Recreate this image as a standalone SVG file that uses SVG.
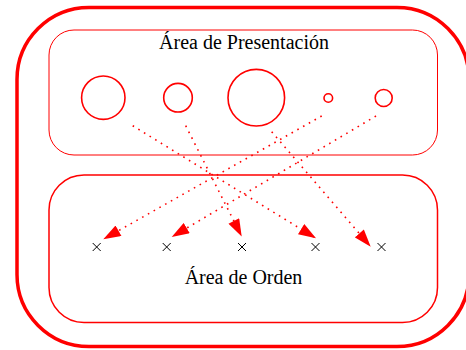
<svg xmlns="http://www.w3.org/2000/svg" width="466" height="350" viewBox="0 0 466 350">
<style>
.frame{fill:none;stroke:#ff0000}
.circ{fill:none;stroke:#ff0000;stroke-width:1.6}
.conn{fill:none;stroke:#ff0000;stroke-width:1.6;stroke-dasharray:1.6 5}
.cross{fill:none;stroke:#000;stroke-width:1}
.lbl{font-family:"Liberation Serif","Times New Roman",serif;font-size:20px;fill:#000;text-anchor:middle}
</style>
<defs>
<marker id="ah" markerUnits="userSpaceOnUse" markerWidth="18" markerHeight="12" refX="16" refY="5.5" orient="auto" viewBox="0 0 16 11">
<path d="M0,0 L16,5.5 L0,11 Z" fill="#ff0000"/>
</marker>
</defs>
<g id="outer"><rect class="frame" x="17" y="7.5" width="452" height="339" rx="72" ry="72" stroke-width="3.5"/></g>
<g id="presentacion">
<rect class="frame" x="49" y="30" width="388.5" height="125" rx="25" ry="25" stroke-width="1"/>
<text class="lbl" x="244" y="49">Área de Presentación</text>
</g>
<g id="orden">
<rect class="frame" x="49" y="175" width="388.5" height="147.5" rx="35" ry="35" stroke-width="1.5"/>
<text class="lbl" x="243.5" y="284">Área de Orden</text>
</g>
<g id="c1"><circle class="circ" cx="103.3" cy="97.7" r="21.7"/></g>
<g id="c2"><circle class="circ" cx="178" cy="97.7" r="14.3"/></g>
<g id="c3"><circle class="circ" cx="256.3" cy="97.7" r="28.3"/></g>
<g id="c4"><circle class="circ" cx="328.3" cy="98" r="4.3"/></g>
<g id="c5"><circle class="circ" cx="383.7" cy="98" r="8.5"/></g>
<g id="x1"><path class="cross" d="M92.7,243 L100.7,251 M100.7,243 L92.7,251"/></g>
<g id="x2"><path class="cross" d="M162.7,243 L170.7,251 M170.7,243 L162.7,251"/></g>
<g id="x3"><path class="cross" d="M238,243 L246,251 M246,243 L238,251"/></g>
<g id="x4"><path class="cross" d="M311.5,243 L319.5,251 M319.5,243 L311.5,251"/></g>
<g id="x5"><path class="cross" d="M377.5,243 L385.5,251 M385.5,243 L377.5,251"/></g>
<g id="connectors">
<path class="conn" d="M132.7,125.7 L316,238.3" marker-end="url(#ah)"/>
<path class="conn" d="M185.7,125.7 L241.7,236.5" marker-end="url(#ah)"/>
<path class="conn" d="M271.7,131.7 L370.7,246.7" marker-end="url(#ah)"/>
<path class="conn" d="M321.7,116 L103.3,239.3" marker-end="url(#ah)"/>
<path class="conn" d="M376,116 L171.7,237" marker-end="url(#ah)"/>
</g>
</svg>
